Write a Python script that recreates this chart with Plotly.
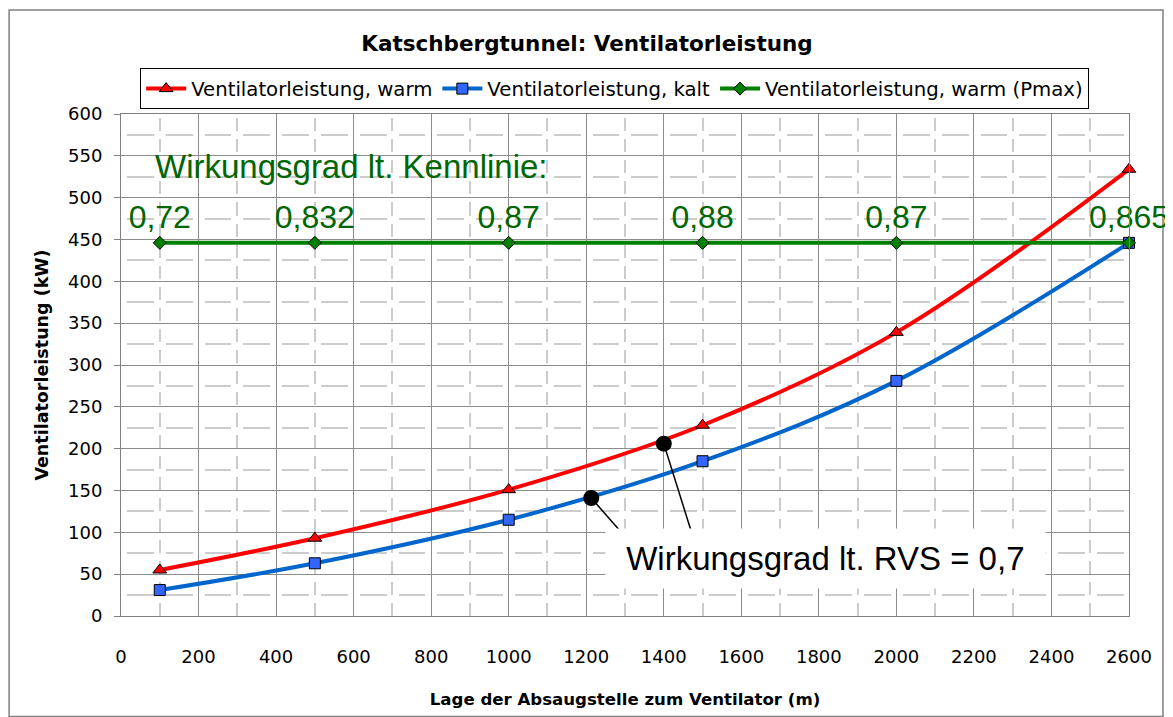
import plotly.graph_objects as go

# Lage der Absaugstelle (m)
lage = [100, 500, 1000, 1500, 2000, 2600]
leistung_warm = [55, 93, 151, 228, 339, 534]
leistung_kalt = [31, 63, 115, 185, 281, 446]
leistung_pmax = [446, 446, 446, 446, 446, 446]
wirkungsgrad = ["0,72", "0,832", "0,87", "0,88", "0,87", "0,865"]

# RVS-Punkte und Hinweislinien
rvs_x = [1213, 1400]
rvs_y = [141, 206]
linie1_x = [1213, 1300]
linie1_y = [141, 95]
linie2_x = [1400, 1475]
linie2_y = [206, 95]

FONT = "DejaVu Sans, sans-serif"
FONT_BIG = "Liberation Sans, Arial, sans-serif"
GREEN_TXT = "#006600"

fig = go.Figure()

fig.add_trace(go.Scatter(
    x=lage, y=leistung_warm, name="Ventilatorleistung, warm",
    mode="lines+markers", line=dict(color="#ff0000", width=4, shape="spline"),
    marker=dict(symbol="triangle-up", size=12, color="#ff0000",
                line=dict(color="black", width=1)),
    cliponaxis=False,
))
fig.add_trace(go.Scatter(
    x=lage, y=leistung_kalt, name="Ventilatorleistung, kalt",
    mode="lines+markers", line=dict(color="#0066cc", width=4, shape="spline"),
    marker=dict(symbol="square", size=11, color="#3366ff",
                line=dict(color="black", width=1)),
    cliponaxis=False,
))
fig.add_trace(go.Scatter(
    x=lage, y=leistung_pmax, name="Ventilatorleistung, warm (Pmax)",
    mode="lines+markers+text", line=dict(color="#008000", width=4),
    marker=dict(symbol="diamond", size=10, color="#008000",
                line=dict(color="black", width=1)),
    text=wirkungsgrad, textposition="top center",
    textfont=dict(size=32, color=GREEN_TXT, family=FONT_BIG),
    cliponaxis=False,
))

# Hinweislinien
for lx, ly in [(linie1_x, linie1_y), (linie2_x, linie2_y)]:
    fig.add_trace(go.Scatter(x=lx, y=ly, mode="lines", showlegend=False,
                             line=dict(color="black", width=1.5),
                             hoverinfo="skip"))
fig.add_trace(go.Scatter(x=rvs_x, y=rvs_y, mode="markers", showlegend=False,
                         marker=dict(color="black", size=16)))

fig.add_annotation(x=1818, y=69,
                   text="\u00a0Wirkungsgrad lt. RVS = 0,7\u00a0",
                   showarrow=False, bgcolor="white", borderpad=11,
                   font=dict(size=33, color="black", family=FONT_BIG))
fig.add_annotation(x=83, y=537, xanchor="left", text="Wirkungsgrad lt. Kennlinie:",
                   showarrow=False, font=dict(size=33, color=GREEN_TXT, family=FONT_BIG))

# Rahmen um das Diagramm
fig.add_shape(type="rect", xref="paper", yref="paper",
              x0=-0.111, x1=1.0337, y0=-0.2, y1=1.207,
              line=dict(color="#808080", width=1.5), layer="below")

axis_common = dict(
    showline=True, linecolor="#808080", linewidth=1, mirror=True,
    showgrid=True, gridcolor="#8c8c8c", gridwidth=1,
    zeroline=False, tickfont=dict(size=18, color="black", family=FONT),
)

fig.update_layout(
    width=1165, height=709,
    margin=dict(l=113, r=44, t=106, b=96),
    paper_bgcolor="white", plot_bgcolor="white",
    font=dict(family=FONT, color="black"),
    title=dict(text="<b>Katschbergtunnel: Ventilatorleistung</b>",
               x=0.497, xanchor="center", y=1 - 35 / 709, yanchor="middle",
               font=dict(size=21.5, color="black", family=FONT)),
    legend=dict(orientation="h", x=0.019, y=1.091, xanchor="left", yanchor="top",
                bordercolor="black", borderwidth=1, bgcolor="white",
                font=dict(size=19.7, color="black", family=FONT),
                itemwidth=40),
    showlegend=True,
    xaxis=dict(
        range=[0, 2600], dtick=200, tick0=0, ticks="",
        ticklabelstandoff=24,
        # gestrichelte Hilfslinien mit Lücken an den Kreuzungen
        minor=dict(dtick=100, showgrid=True, gridcolor="#cccccc",
                   griddash="0px,4px,13.1px,4px", gridwidth=1.5),
        title=dict(text="<b>Lage der Absaugstelle zum Ventilator (m)</b>",
                   font=dict(size=16.6, color="black", family=FONT), standoff=27),
        **axis_common,
    ),
    yaxis=dict(
        range=[0, 600], dtick=50, tick0=0, ticks="outside", ticklen=6,
        tickcolor="#808080", ticklabelstandoff=8,
        minor=dict(dtick=25, showgrid=True, gridcolor="#cccccc",
                   griddash="0px,6px,26.8px,6px", gridwidth=1.5),
        title=dict(text="<b>Ventilatorleistung (kW)</b>",
                   font=dict(size=17.5, color="black", family=FONT), standoff=14),
        **axis_common,
    ),
)

fig.write_html("out.html")
